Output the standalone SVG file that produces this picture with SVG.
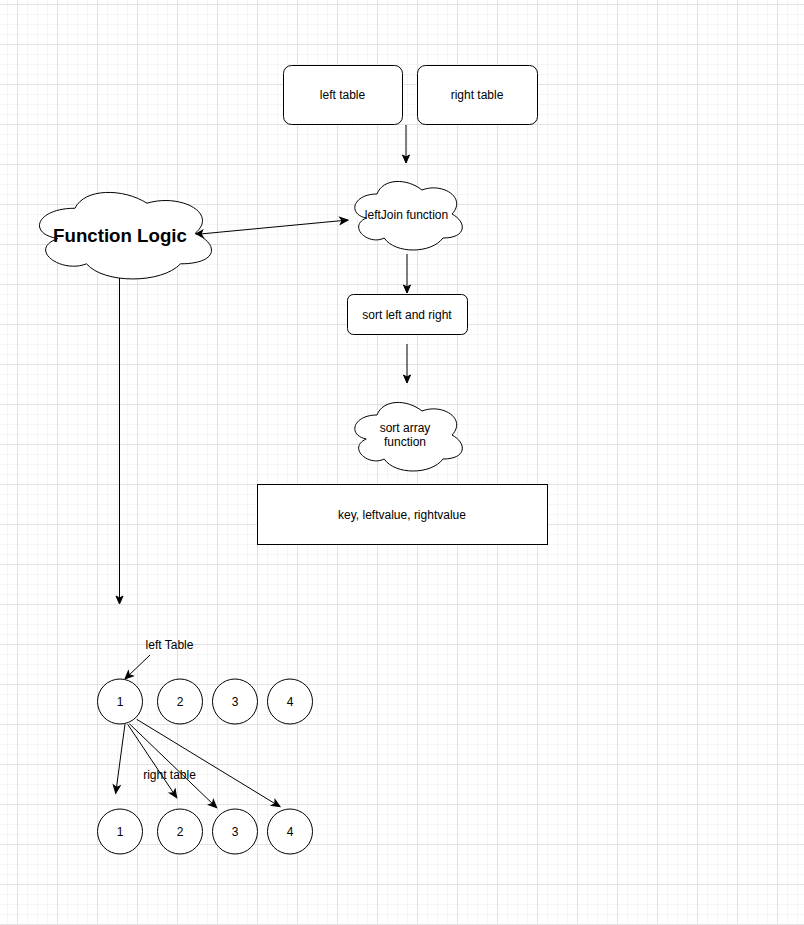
<svg xmlns="http://www.w3.org/2000/svg" width="804" height="925" viewBox="0 0 804 925">
<style>
text{font-family:"Liberation Sans",Arial,sans-serif;font-size:12px;fill:#000;text-anchor:middle}
.shape{fill:#fff;stroke:#000;stroke-width:1}
.edge{fill:none;stroke:#000;stroke-width:1}
.arr{marker-end:url(#ah)}
</style>
<defs>
<pattern id="minor" patternUnits="userSpaceOnUse" x="7" y="4" width="10" height="10">
<rect x="0" y="0" width="1" height="10" fill="#f5f5f5"/>
<rect x="0" y="0" width="10" height="1" fill="#f5f5f5"/>
</pattern>
<pattern id="major" patternUnits="userSpaceOnUse" x="17" y="4" width="40" height="40">
<rect x="0" y="0" width="1" height="40" fill="#e2e2e2"/>
<rect x="0" y="0" width="40" height="1" fill="#e2e2e2"/>
</pattern>
<marker id="ah" markerUnits="userSpaceOnUse" markerWidth="10" markerHeight="10" refX="8" refY="3.5" orient="auto-start-reverse" viewBox="0 0 10 10" overflow="visible">
<path d="M0,0 L8,3.5 L0,7 L2,3.5 Z" fill="#000" stroke="#000" stroke-width="1"/>
</marker>
</defs>
<rect width="804" height="925" fill="#fff"/>
<rect width="804" height="925" fill="url(#minor)"/>
<rect width="804" height="925" fill="url(#major)"/>

<g id="connectors">
<line class="edge arr" x1="406" y1="125" x2="406" y2="163"/>
<line class="edge arr" x1="407" y1="254" x2="407" y2="293"/>
<line class="edge arr" x1="407" y1="344" x2="407" y2="383"/>
<line class="edge arr" x1="195" y1="234.5" x2="348" y2="220" style="marker-start:url(#ah)"/>
<line class="edge arr" x1="119.5" y1="275" x2="119.5" y2="604"/>
<line class="edge arr" x1="150" y1="655" x2="125" y2="679"/>
<line class="edge arr" x1="125" y1="724" x2="115.7" y2="793.3"/>
<line class="edge arr" x1="127.7" y1="724.3" x2="176.7" y2="797.7"/>
<line class="edge arr" x1="129.3" y1="723.7" x2="216.7" y2="807.7"/>
<line class="edge arr" x1="136.7" y1="719.3" x2="280" y2="806.7"/>
</g>

<g id="left-table">
<rect class="shape" x="283.5" y="65.5" width="119" height="59" rx="8"/>
<text x="342.5" y="99">left table</text>
</g>
<g id="right-table">
<rect class="shape" x="417.5" y="65.5" width="120" height="59" rx="8"/>
<text x="477" y="99">right table</text>
</g>
<g id="function-logic">
<path class="shape" d="M75,208.25 C36.6,208.25 27,233.5 57.72,238.55 C27,249.66 61.56,273.9 86.52,263.8 C103.8,284 161.4,284 180.6,263.8 C219,263.8 219,243.6 195,233.5 C219,213.3 180.6,193.1 147,203.2 C123,188.05 84.6,188.05 75,208.25 Z"/>
<text x="120" y="242" style="font-size:18.7px;font-weight:bold">Function Logic</text>
</g>
<g id="leftjoin-function">
<path class="shape" d="M377,194 C353,194 347,214 366.2,218 C347,226.8 368.6,246 384.2,238 C395,254 431,254 443,238 C467,238 467,222 452,214 C467,198 443,182 422,190 C407,178 383,178 377,194 Z"/>
<text x="406.5" y="219">leftJoin function</text>
</g>
<g id="sort-left-right">
<rect class="shape" x="347.5" y="294.5" width="120" height="40" rx="6"/>
<text x="407" y="319">sort left and right</text>
</g>
<g id="sort-array-function">
<path class="shape" d="M377,415 C353,415 347,435 366.2,439 C347,447.8 368.6,467 384.2,459 C395,475 431,475 443,459 C467,459 467,443 452,435 C467,419 443,403 422,411 C407,399 383,399 377,415 Z"/>
<text x="405" y="432">sort array</text>
<text x="405" y="446">function</text>
</g>
<g id="key-values">
<rect class="shape" x="257.5" y="484.5" width="290" height="60"/>
<text x="402" y="519">key, leftvalue, rightvalue</text>
</g>
<g id="label-left-table">
<text x="169.5" y="649">left Table</text>
</g>
<g id="label-right-table">
<text x="169.5" y="779">right table</text>
</g>
<g id="l1"><circle class="shape" cx="120" cy="701.5" r="22.5"/><text x="120" y="706">1</text></g>
<g id="l2"><circle class="shape" cx="180" cy="701.5" r="22.5"/><text x="180" y="706">2</text></g>
<g id="l3"><circle class="shape" cx="235" cy="701.5" r="22.5"/><text x="235" y="706">3</text></g>
<g id="l4"><circle class="shape" cx="290" cy="701.5" r="22.5"/><text x="290" y="706">4</text></g>
<g id="r1"><circle class="shape" cx="120" cy="831.5" r="22.5"/><text x="120" y="836">1</text></g>
<g id="r2"><circle class="shape" cx="180" cy="831.5" r="22.5"/><text x="180" y="836">2</text></g>
<g id="r3"><circle class="shape" cx="235" cy="831.5" r="22.5"/><text x="235" y="836">3</text></g>
<g id="r4"><circle class="shape" cx="290" cy="831.5" r="22.5"/><text x="290" y="836">4</text></g>
</svg>
